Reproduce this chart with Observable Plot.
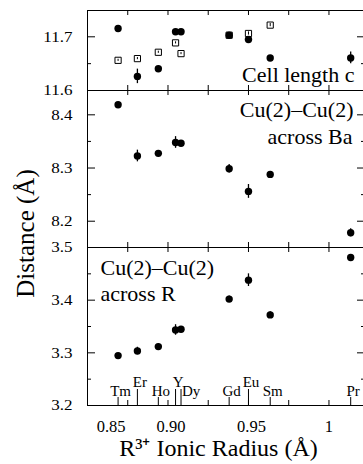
<!DOCTYPE html>
<html><head><meta charset="utf-8">
<script src="https://cdn.jsdelivr.net/npm/d3@7"></script>
<script src="https://cdn.jsdelivr.net/npm/@observablehq/plot@0.6"></script>
<style>
html,body{margin:0;padding:0;background:#fff;overflow:hidden}
#chart{position:relative;width:363px;height:464px;overflow:hidden;background:#fff}
#chart svg{position:absolute;left:0;max-width:none !important;font-family:"Liberation Serif","Times New Roman",serif !important;}
#chart svg text{font-family:"Liberation Serif","Times New Roman",serif;}
</style></head><body><div id="chart"></div>
<script>
// ---- data ----
const elements = ["Tm","Er","Ho","Y","Dy","Gd","Eu","Sm","Pr"];
const ionicRadius = [0.869, 0.881, 0.894, 0.9047, 0.9081, 0.938, 0.950, 0.9635, 1.0135];
// cell length c (filled circles and open squares)
const cFilled    = [11.7155, 11.6263, 11.6406, 11.7093, 11.7093, 11.703, 11.695, 11.6606, 11.6606];
const cFilledErr = [0, 0.0135, 0, 0, 0, 0, 0, 0, 0.011];
const cOpen      = [11.6562, 11.6594, 11.6712, 11.6887, 11.6687, 11.703, 11.7062, 11.7218, null];
const cOpenErr   = [0.002, 0.002, 0.002, 0.002, 0.002, 0.002, 0.003, 0.003, null];
// Cu(2)-Cu(2) across Ba
const cuBa    = [8.419, 8.3226, 8.3276, 8.348, 8.3466, 8.2985, 8.256, 8.288, 8.1784];
const cuBaErr = [0, 0.011, 0.005, 0.011, 0.004, 0.008, 0.013, 0.005, 0.0075];
// Cu(2)-Cu(2) across R
const cuR    = [3.2947, 3.3036, 3.3118, 3.3434, 3.3447, 3.402, 3.438, 3.372, 3.481];
const cuRErr = [0.002, 0.007, 0.005, 0.01, 0.003, 0.006, 0.012, 0.006, 0.005];
// axes
const xDomain = [0.85, 1.0227];
const xTicks = [0.875, 0.9, 0.925, 0.95, 0.975, 1.0];
const xTickLabels = ["0.85", "0.90", "0.95", "1"];
const xTickLabelAt = [0.8647, 0.9019, 0.9519, 1.0];
const cDomain = [11.6, 11.749], cMajor = [11.7], cMinor = [11.65], cLabels = [11.6, 11.7];
const baDomain = [8.1506, 8.4457], baMajor = [8.2, 8.3, 8.4], baMinor = [8.25, 8.35], baLabels = [8.2, 8.3, 8.4];
const rDomain = [3.2, 3.5], rMajor = [3.3, 3.4], rMinor = [3.25, 3.35, 3.45], rLabels = [3.2, 3.3, 3.4, 3.5];
const raisedLabels = ["Er", "Y", "Eu"];
const startLabels = ["Dy"];

// ---- helpers ----
const FONT = '"Liberation Serif", "Times New Roman", serif';
// horizontal stretch per text group (Times is narrower than the original's Century-style face)
const STRETCH = {"panel-label": 1.25, "y-axis tick label": 1.1, "x-tick-label": 1.12, "x-title": 1.13, "y-title": 1.22, "element-label": 1.05};
const rows = (vals, errs) => elements.map((el, i) => ({el, x: ionicRadius[i], y: vals[i], err: errs ? errs[i] : 0}))
  .filter(d => d.y != null);
const W = 365, ML = 87, PW = W - ML;
const chart = document.getElementById("chart");

function panel({top, mTop = 0, h, mBottom = 0, domain, major, minor, labels, marks}) {
  const svg = Plot.plot({
    width: W, height: mTop + h + mBottom,
    marginLeft: ML, marginRight: 0, marginTop: mTop, marginBottom: mBottom,
    style: {fontFamily: FONT, background: "transparent", overflow: "visible", maxWidth: "none", color: "black"},
    x: {domain: xDomain, axis: null},
    y: {domain},
    marks: [
      Plot.frame({stroke: "black", strokeWidth: 1}),
      Plot.ruleY(major, {stroke: "black", insetRight: PW - 8}),
      Plot.ruleY(major, {stroke: "black", insetLeft: PW - 8}),
      Plot.ruleY(minor, {stroke: "black", insetRight: PW - 4}),
      Plot.ruleY(minor, {stroke: "black", insetLeft: PW - 4}),
      Plot.ruleX(xTicks, {stroke: "black", insetBottom: h - 5}),
      Plot.ruleX(xTicks, {stroke: "black", insetTop: h - 5}),
      Plot.axisY(labels, {anchor: "left", tickSize: 0, tickPadding: 15, tickFormat: d3.format(".1f"), fontSize: 15.5, fontFamily: FONT, label: null}),
      ...marks
    ]
  });
  svg.style.top = top + "px";
  chart.appendChild(svg);
}

function points(data) {
  return [
    Plot.ruleX(data.filter(d => d.err > 0), {x: "x", y1: d => d.y - d.err, y2: d => d.y + d.err, stroke: "black", strokeWidth: 1.3}),
    Plot.dot(data, {x: "x", y: "y", r: 3.7, fill: "black", stroke: "none"})
  ];
}
const PL = {fontSize: 22, fontFamily: FONT, ariaLabel: "panel-label", lineAnchor: "bottom"};

// ---- panel A: cell length c ----
const sq = rows(cOpen, cOpenErr);
panel({
  top: 0, mTop: 10, h: 80, domain: cDomain, major: cMajor, minor: cMinor, labels: cLabels,
  marks: [
    Plot.dot(sq, {x: "x", y: "y", symbol: "square", r: 3.5, fill: "white", stroke: "black", strokeWidth: 1}),
    Plot.ruleX(sq, {x: "x", y1: d => d.y - d.err, y2: d => d.y + d.err, stroke: "black", strokeWidth: 1}),
    ...points(rows(cFilled, cFilledErr)),
    Plot.text(["Cell length c"], {...PL, frameAnchor: "bottom-right", textAnchor: "end", dx: -11, dy: -8.5})
  ]
});

// ---- panel B: across Ba ----
panel({
  top: 90, h: 157, domain: baDomain, major: baMajor, minor: baMinor, labels: baLabels,
  marks: [
    ...points(rows(cuBa, cuBaErr)),
    Plot.text(["Cu(2)–Cu(2)"], {...PL, frameAnchor: "top-right", textAnchor: "end", dx: -12, dy: 26}),
    Plot.text(["across Ba"], {...PL, frameAnchor: "top-right", textAnchor: "end", dx: -13, dy: 53.7}),
    Plot.text(["Distance (Å)"], {frameAnchor: "left", textAnchor: "middle", lineAnchor: "middle", rotate: -90, dx: -62, dy: 64.5, fontSize: 25, fontFamily: FONT, ariaLabel: "y-title"})
  ]
});

// ---- panel C: across R ----
const rRows = rows(cuR, cuRErr);
const low = rRows.filter(d => !raisedLabels.includes(d.el) && !startLabels.includes(d.el));
const raised = rRows.filter(d => raisedLabels.includes(d.el));
const starts = rRows.filter(d => startLabels.includes(d.el));
const EL = {x: "x", text: "el", frameAnchor: "bottom", lineAnchor: "bottom", fontSize: 15, fontFamily: FONT, ariaLabel: "element-label"};
panel({
  top: 247, h: 158, mBottom: 59, domain: rDomain, major: rMajor, minor: rMinor, labels: rLabels,
  marks: [
    Plot.ruleX(low, {x: "x", stroke: "black", insetTop: 158 - 8}),
    Plot.ruleX([...raised, ...starts], {x: "x", stroke: "black", insetTop: 158 - 16}),
    Plot.text(low, {...EL, textAnchor: "middle", dx: 2.5, dy: -9.3}),
    Plot.text(raised, {...EL, textAnchor: "middle", dx: 2.5, dy: -18.3}),
    Plot.text(starts, {...EL, textAnchor: "start", dx: 1, dy: -9.3}),
    ...points(rRows),
    Plot.text(["Cu(2)–Cu(2)"], {...PL, frameAnchor: "top-left", textAnchor: "start", dx: 13, dy: 27}),
    Plot.text(["across R"], {...PL, frameAnchor: "top-left", textAnchor: "start", dx: 13, dy: 53}),
    Plot.text(xTickLabels, {x: (d, i) => xTickLabelAt[i], text: d => d, frameAnchor: "bottom", textAnchor: "middle", lineAnchor: "bottom", dy: 26.5, fontSize: 16.5, fontFamily: FONT, ariaLabel: "x-tick-label"}),
    Plot.text(["R³⁺ Ionic Radius (Å)"], {frameAnchor: "bottom", textAnchor: "middle", lineAnchor: "bottom", dx: -8, dy: 50, fontSize: 24, fontFamily: FONT, ariaLabel: "x-title"})
  ]
});

// widen glyphs to mimic the original's wide serif face
for (const [label, k] of Object.entries(STRETCH)) {
  if (k === 1) continue;
  chart.querySelectorAll(`g[aria-label="${label}"] text`).forEach(t => {
    const len = t.getComputedTextLength();
    if (len > 0) { t.setAttribute("textLength", (len * k).toFixed(1)); t.setAttribute("lengthAdjust", "spacingAndGlyphs"); }
  });
}
</script></body></html>
